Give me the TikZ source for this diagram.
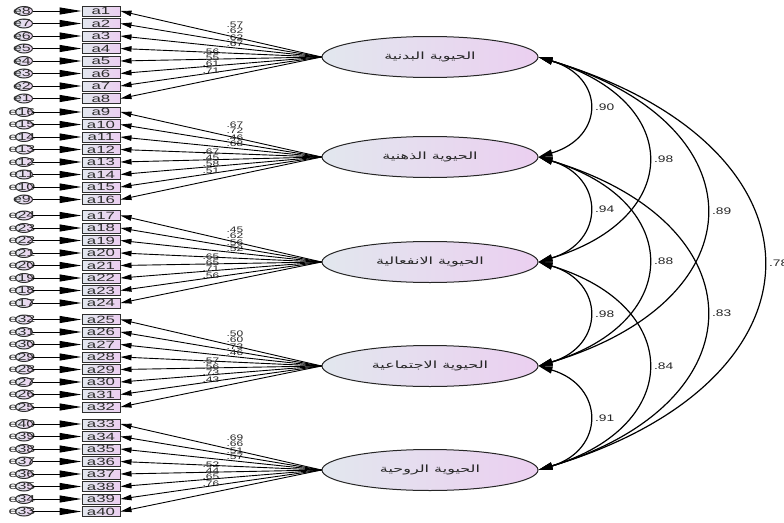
\documentclass[tikz,border=0pt]{standalone}
\usepackage{fontspec}
\setmainfont{Liberation Sans}
\newfontfamily\arabicfont[Script=Arabic]{DejaVu Sans}
\TeXXeTstate=1
\usetikzlibrary{arrows.meta,shapes.geometric}
\definecolor{gl}{HTML}{E2E7EE}
\definecolor{gr}{HTML}{EBCFF0}
\definecolor{ink}{HTML}{2E2E2E}
\newcommand{\hstr}[2]{\scalebox{#1}[1]{#2}}
\begin{document}
\begin{tikzpicture}[x=1pt,y=-1pt,
  obs/.style={draw=ink, line width=1pt, left color=gl, right color=gr,
    minimum width=38pt, minimum height=10pt, inner sep=0pt, text=ink,
    font=\fontsize{10.5}{10.5}\selectfont},
  err/.style={ellipse, draw=ink, line width=1pt, left color=gl, right color=gr,
    minimum width=17pt, minimum height=9pt, inner sep=0pt},
  errlab/.style={text=ink, inner sep=0pt, font=\fontsize{10}{10}\selectfont},
  lat/.style={ellipse, draw=black!85, line width=1pt, left color=gl, right color=gr,
    minimum width=216pt, minimum height=41pt, inner sep=0pt, text=black!85,
    font=\arabicfont\fontsize{10}{10}\selectfont},
  errarrow/.style={-{Triangle[length=22pt,width=7pt]}, line width=1pt},
  loadarrow/.style={-{Triangle[length=11pt,width=5.5pt]}, line width=0.9pt},
  corr/.style={{Triangle[length=14pt,width=7pt]}-{Triangle[length=14pt,width=7pt]}, line width=1.2pt},
  loadlab/.style={inner sep=0pt, font=\fontsize{8}{8}\selectfont, text=black!85},
  corrlab/.style={inner sep=0pt, font=\fontsize{9.5}{9.5}\selectfont, text=black!85}
]
\useasboundingbox (0,0) rectangle (784,522);

% latent factors
\node[lat] (L1) at (430,57)  {\hstr{1.6}{\beginR الحيوية البدنية\endR}};
\node[lat] (L2) at (430,157) {\hstr{1.6}{\beginR الحيوية الذهنية\endR}};
\node[lat] (L3) at (430,262) {\hstr{1.6}{\beginR الحيوية الانفعالية\endR}};
\node[lat] (L4) at (430,366) {\hstr{1.6}{\beginR الحيوية الاجتماعية\endR}};
\node[lat] (L5) at (430,470) {\hstr{1.6}{\beginR الحيوية الروحية\endR}};

% indicators, errors, loadings
\foreach \g/\gs in {1/11,2/112,3/215.5,4/319.5,5/424} {
  \foreach \i in {1,...,8} {
    \pgfmathtruncatemacro{\n}{8*(\g-1)+\i}
    \pgfmathtruncatemacro{\e}{8*\g-\i+1}
    \pgfmathsetmacro{\yy}{\gs+(\i-1)*12.5}
    \node[obs] (a\n) at (101,\yy) {\hstr{1.6}{a\n}};
    \node[err] (e\e) at (24,\yy) {};
    \node[errlab] (t\e) at (22,\yy) {\hstr{1.6}{e\e}};
    \draw[errarrow] (e\e) -- (a\n);
    \draw[loadarrow] (L\g.west) -- (a\n.east);
  }
}

% loading labels
\foreach \g/\la/\lb/\lc/\ld/\le/\lf/\lg/\lh in {
  1/57/62/62/67/56/55/61/71,
  2/67/72/46/68/67/45/58/51,
  3/45/62/56/52/65/65/71/56,
  4/50/60/73/46/57/56/73/43,
  5/69/66/51/57/52/44/65/76} {
  \path (L\g.center) ++(-195,-32) node[loadlab] {\hstr{1.5}{.\la}};
  \path (L\g.center) ++(-195,-26) node[loadlab] {\hstr{1.5}{.\lb}};
  \path (L\g.center) ++(-195,-19) node[loadlab] {\hstr{1.5}{.\lc}};
  \path (L\g.center) ++(-195,-13) node[loadlab] {\hstr{1.5}{.\ld}};
  \path (L\g.center) ++(-219,-5)  node[loadlab] {\hstr{1.5}{.\le}};
  \path (L\g.center) ++(-219,1)   node[loadlab] {\hstr{1.5}{.\lf}};
  \path (L\g.center) ++(-219,7)   node[loadlab] {\hstr{1.5}{.\lg}};
  \path (L\g.center) ++(-219,14)  node[loadlab] {\hstr{1.5}{.\lh}};
}

% correlations
\newcommand{\corrarc}[5]{%
  \draw[corr] (L#1.east) .. controls +(#3,#4) and +(#3,-#4) .. (L#2.east)
    node[corrlab, pos=0.5, anchor=west, xshift=6pt] {\hstr{1.45}{#5}};}
\corrarc{1}{2}{66.7}{20}{.90}
\corrarc{2}{3}{66.7}{20}{.94}
\corrarc{3}{4}{66.7}{20}{.98}
\corrarc{4}{5}{66.7}{20}{.91}
\corrarc{1}{3}{145.3}{44}{.98}
\corrarc{2}{4}{145.3}{44}{.88}
\corrarc{3}{5}{145.3}{44}{.84}
\corrarc{1}{4}{222.7}{67}{.89}
\corrarc{2}{5}{222.7}{67}{.83}
\corrarc{1}{5}{298.7}{90}{.78}
\end{tikzpicture}
\end{document}
